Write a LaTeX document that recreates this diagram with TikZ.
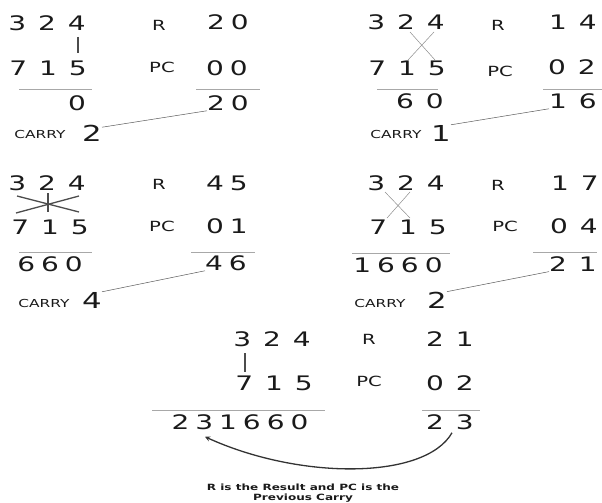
\documentclass[tikz,border=0pt]{standalone}
\usepackage{fontspec}
\setmainfont{DejaVu Sans}
\newfontfamily\numfont[FakeStretch=1.4,LetterSpace=30]{DejaVu Sans}
\newfontfamily\widenumfont[FakeStretch=1.4,LetterSpace=60]{DejaVu Sans}
\newfontfamily\labfont[FakeStretch=1.4]{DejaVu Sans}
\definecolor{ink}{HTML}{1A1A1A}
\definecolor{rulegray}{HTML}{A8A8A8}
\tikzset{
  num/.style={inner sep=0pt,text=ink,font=\numfont\fontsize{20}{24}\selectfont},
  wnum/.style={inner sep=0pt,text=ink,font=\widenumfont\fontsize{20}{24}\selectfont},
  lab/.style={inner sep=0pt,text=ink,font=\labfont\fontsize{14}{16}\selectfont},
  carrylab/.style={inner sep=0pt,text=ink,font=\labfont\fontsize{11}{13}\selectfont},
  carry/.style={inner sep=0pt,text=ink,font=\labfont\fontsize{22}{26}\selectfont},
  rule/.style={rulegray,line width=0.8pt},
  link/.style={black!65,line width=0.5pt},
  thin/.style={black!45,line width=0.5pt},
  heavy/.style={black!70,line width=1.3pt}
}
\begin{document}
\begin{tikzpicture}[x=1pt,y=-1pt]
  \useasboundingbox (0,0) rectangle (602,503);
%% first step
  \node[wnum] (a1) at (47,23) {324};
  \node[lab] (ra1) at (159,25) {R};
  \node[num] (ar1) at (228,22) {20};
  \node[wnum] (b1) at (48,68) {715};
  \node[lab] (pa1) at (162,67) {PC};
  \node[num] (ap1) at (227,68) {00};
  \draw[rule] (19,89) -- (92,89);
  \draw[rule] (196,89) -- (260,89);
  \node[num] (s1) at (77,103) {0};
  \node[num] (t1) at (228,103) {20};
  \node[carrylab] (k1) at (40,134) {CARRY};
  \node[carry] (c1) at (92,133) {2};
  \draw[heavy] (78,37) -- (78,53);
  \draw[link] (c1.30) -- (t1.south west);
%% second step
  \node[wnum] (a2) at (406,22) {324};
  \node[lab] (ra2) at (498,25) {R};
  \node[wnum] (ar2) at (573,22) {14};
  \node[wnum] (b2) at (407,68) {715};
  \node[lab] (pa2) at (500,71) {PC};
  \node[wnum] (ap2) at (572,67) {02};
  \draw[rule] (377,89) -- (438,89);
  \draw[rule] (543,89) -- (602,89);
  \node[wnum] (s2) at (420,101) {60};
  \node[wnum] (t2) at (573,101) {16};
  \node[carrylab] (k2) at (396,134) {CARRY};
  \node[carry] (c2) at (441,133) {1};
  \draw[thin] (410,32) -- (435,60);
  \draw[thin] (434,32) -- (408,60);
  \draw[link] (c2.north east) -- (t2.south west);
%% third step
  \node[wnum] (a3) at (47,183) {324};
  \node[lab] (ra3) at (159,184) {R};
  \node[num] (ar3) at (227,183) {45};
  \node[wnum] (b3) at (50,227) {715};
  \node[lab] (pa3) at (162,226) {PC};
  \node[num] (ap3) at (227,226) {01};
  \draw[rule] (19,252) -- (92,252);
  \draw[rule] (191,252) -- (255,252);
  \node[num] (s3) at (50,264) {660};
  \node[num] (t3) at (226,263) {46};
  \node[carrylab] (k3) at (44,303) {CARRY};
  \node[carry] (c3) at (92,300) {4};
  \draw[heavy] (17,196) -- (79,212);
  \draw[heavy] (16,213) -- (79,196);
  \draw[heavy] (48,193) -- (48,212);
  \draw[link] (c3.north east) -- (t3.south west);
%% fourth step
  \node[wnum] (a4) at (406,183) {324};
  \node[lab] (ra4) at (498,185) {R};
  \node[wnum] (ar4) at (575,183) {17};
  \node[wnum] (b4) at (408,227) {715};
  \node[lab] (pa4) at (505,226) {PC};
  \node[wnum] (ap4) at (574,226) {04};
  \draw[rule] (352,253) -- (450,253);
  \draw[rule] (533,252) -- (597,252);
  \node[num] (s4) at (398,265) {1660};
  \node[wnum] (t4) at (573,264) {21};
  \node[carrylab] (k4) at (380,303) {CARRY};
  \node[carry] (c4) at (437,300) {2};
  \draw[thin] (385,192) -- (410,218);
  \draw[thin] (410,192) -- (387,218);
  \draw[link] (c4.north east) -- (t4.south west);
%% last step
  \node[wnum] (a5) at (272,339) {324};
  \node[lab] (ra5) at (369,339) {R};
  \node[wnum] (ar5) at (450,339) {21};
  \node[wnum] (b5) at (274,383) {715};
  \node[lab] (pa5) at (369,381) {PC};
  \node[wnum] (ap5) at (450,383) {02};
  \draw[rule] (152,410) -- (325,410);
  \draw[rule] (422,410) -- (480,410);
  \node[num] (s5) at (240,422) {231660};
  \node[wnum] (t5) at (450,422) {23};
  \draw[heavy] (245,353) -- (245,372);
  \draw[-stealth,black!80,line width=1.3pt] ([shift={(2,3)}]t5.south) .. controls (425,480) and (300,480) .. ([shift={(-35,7)}]s5.south);
  \node[inner sep=0pt,align=center,text=ink,font=\labfont\bfseries\fontsize{8.6}{10}\selectfont] (note) at (303,493) {R is the Result and PC is the\\Previous Carry};
\end{tikzpicture}
\end{document}
